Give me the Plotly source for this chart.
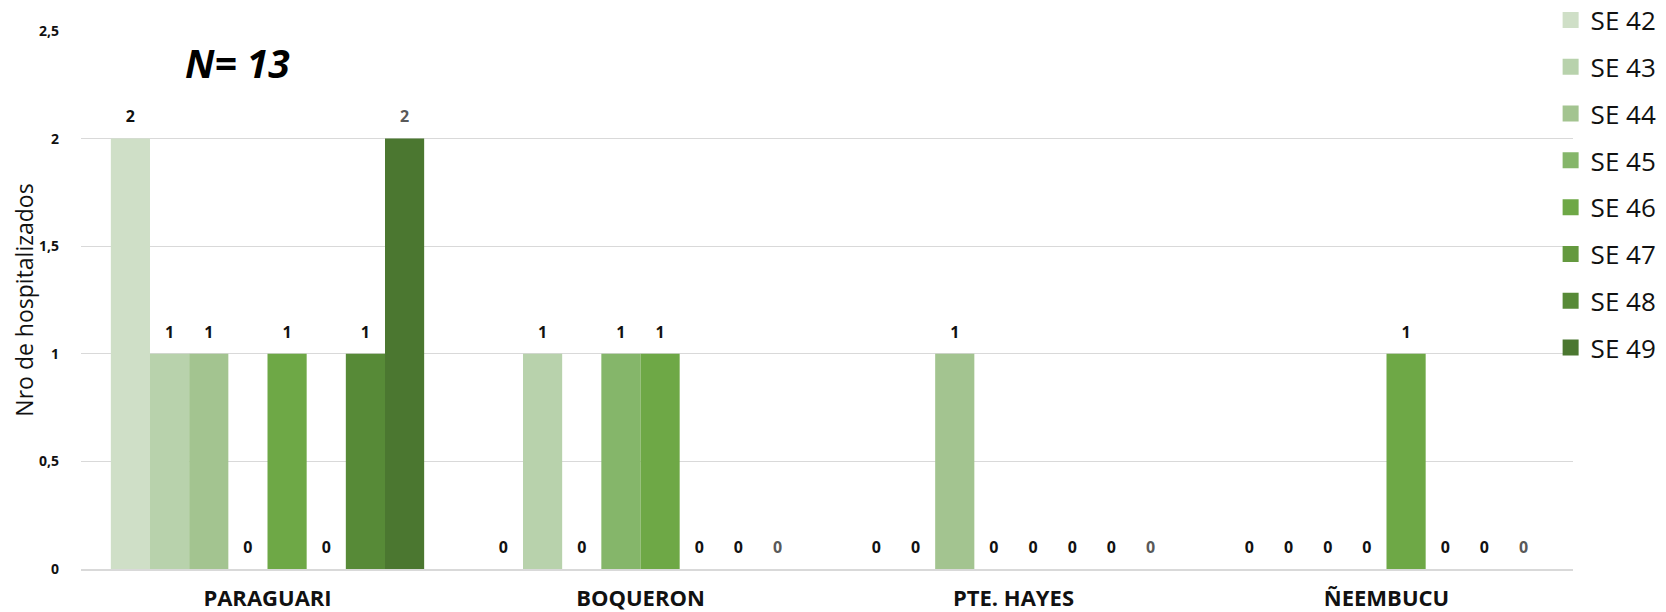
import plotly.graph_objects as go

categories = ["PARAGUARI", "BOQUERON", "PTE. HAYES", "ÑEEMBUCU"]
series_names = ["SE 42", "SE 43", "SE 44", "SE 45", "SE 46", "SE 47", "SE 48", "SE 49"]
se42 = [2, 0, 0, 0]
se43 = [1, 1, 0, 0]
se44 = [1, 0, 1, 0]
se45 = [0, 1, 0, 0]
se46 = [1, 1, 0, 1]
se47 = [0, 0, 0, 0]
se48 = [1, 0, 0, 0]
se49 = [2, 0, 0, 0]
series_values = [se42, se43, se44, se45, se46, se47, se48, se49]
colors = ["#cfdfc7", "#b8d2ac", "#a3c490", "#85b66a", "#6ea846", "#64993f", "#578a37", "#4b7730"]
label_colors = ["#111111"] * 7 + ["#595959"]
y_tickvals = [0, 0.5, 1, 1.5, 2, 2.5]
y_ticktext = ["0", "0,5", "1", "1,5", "2", "2,5"]
total_label = "N= 13"

FONT = "Open Sans"
fig = go.Figure()
for i, (name, vals) in enumerate(zip(series_names, series_values)):
    fig.add_trace(go.Bar(
        x=categories, y=vals, name=name, marker_color=colors[i],
        marker_line_width=0, offsetgroup=str(i), showlegend=False,
        hoverinfo="skip",
    ))
for i, (name, vals) in enumerate(zip(series_names, series_values)):
    fig.add_trace(go.Scatter(
        x=categories, y=vals, mode="markers+text", text=[str(v) for v in vals],
        textposition="top center",
        textfont=dict(family=FONT, size=16, color=label_colors[i], weight="bold"),
        marker=dict(size=18, opacity=0), showlegend=False, hoverinfo="skip",
        offsetgroup=str(i),
    ))
# legend entries (square swatches)
for i, name in enumerate(series_names):
    fig.add_trace(go.Scatter(
        x=[None], y=[None], mode="markers", name=name,
        marker=dict(symbol="square", size=16, color=colors[i]),
        legendgroup=name, showlegend=True, hoverinfo="skip",
    ))

fig.add_annotation(
    text="<b><i>" + total_label + "</i></b>", x=0.105, y=0.942, xref="paper", yref="paper",
    xanchor="center", yanchor="middle",
    showarrow=False, font=dict(family=FONT, size=39, color="#000000"),
)

# the page body has an 8px margin: the figure is sized/margined to compensate
fig.update_layout(
    width=1658, height=604,
    margin=dict(l=73, r=93, t=23, b=43, autoexpand=False),
    paper_bgcolor="white", plot_bgcolor="white",
    barmode="group", bargap=0.16, bargroupgap=0,
    scattermode="group", scattergap=0.16,
    font=dict(family=FONT, color="#111111"),
    legend=dict(
        x=0.985, y=1.064, xanchor="left", yanchor="top", yref="paper",
        font=dict(family=FONT, size=26, color="#111111"),
        tracegroupgap=10, bgcolor="rgba(0,0,0,0)", itemsizing="trace",
        maxheight=1,
    ),
    showlegend=True,
)
fig.update_xaxes(
    showgrid=False, showline=True, linecolor="#d9d9d9", linewidth=1.5,
    tickfont=dict(family=FONT, size=22, color="#111111", weight="bold"),
    ticklabelstandoff=9, ticks="",
)
fig.update_yaxes(
    range=[0, 2.5], tickvals=y_tickvals, ticktext=y_ticktext,
    showgrid=True, gridcolor="#d9d9d9", gridwidth=1, zeroline=False,
    tickfont=dict(family=FONT, size=14, color="#111111", weight="bold"),
    ticklabelstandoff=21,
    title=dict(text="Nro de hospitalizados", font=dict(family=FONT, size=23, color="#111111"), standoff=6),
)

fig.write_html("out.html")
